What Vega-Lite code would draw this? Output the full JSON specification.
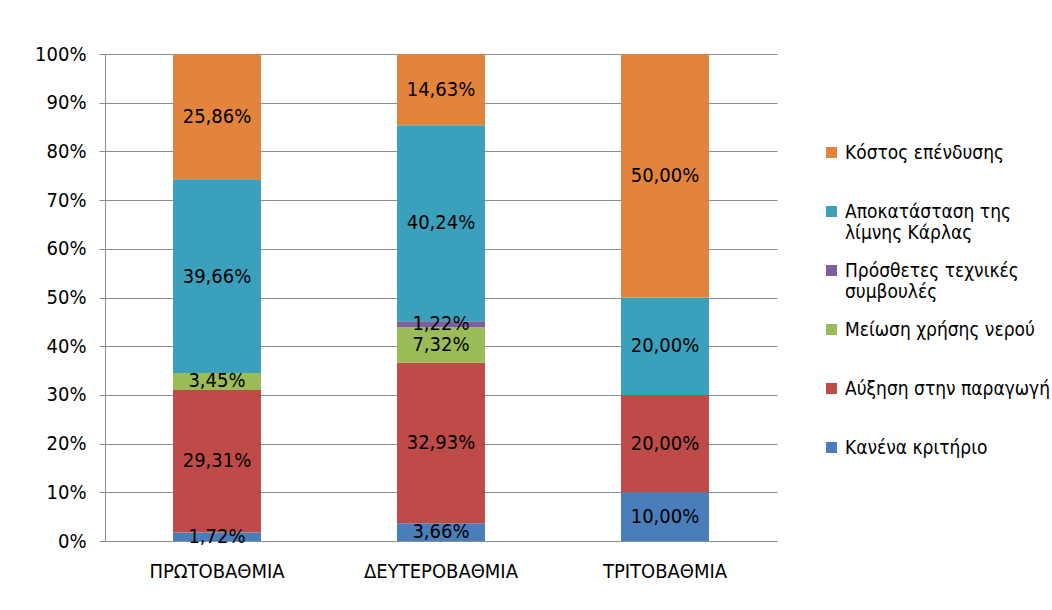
{
  "$schema": "https://vega.github.io/schema/vega-lite/v6.json",
  "width": 672,
  "height": 487,
  "autosize": {"type": "none"},
  "padding": {"left": 105, "top": 54, "right": 275, "bottom": 69},
  "background": "white",
  "config": {
    "locale": {"number": {"decimal": ",", "thousands": ".", "grouping": [3], "currency": ["", " €"]}},
    "view": {"stroke": null},
    "font": "DejaVu Sans Condensed",
    "axis": {"labelFont": "DejaVu Sans Condensed", "labelColor": "#000000", "gridColor": "#8c8c8c", "domainColor": "#8c8c8c", "tickColor": "#8c8c8c"}
  },
  "data": {
    "values": [
      {"level": "ΠΡΩΤΟΒΑΘΜΙΑ", "criterion": "Κανένα κριτήριο", "value": 0.0172, "rank": 1},
      {"level": "ΠΡΩΤΟΒΑΘΜΙΑ", "criterion": "Αύξηση στην παραγωγή", "value": 0.2931, "rank": 2},
      {"level": "ΠΡΩΤΟΒΑΘΜΙΑ", "criterion": "Μείωση χρήσης νερού", "value": 0.0345, "rank": 3},
      {"level": "ΠΡΩΤΟΒΑΘΜΙΑ", "criterion": "Αποκατάσταση της λίμνης Κάρλας", "value": 0.3966, "rank": 5},
      {"level": "ΠΡΩΤΟΒΑΘΜΙΑ", "criterion": "Κόστος επένδυσης", "value": 0.2586, "rank": 6},
      {"level": "ΔΕΥΤΕΡΟΒΑΘΜΙΑ", "criterion": "Κανένα κριτήριο", "value": 0.0366, "rank": 1},
      {"level": "ΔΕΥΤΕΡΟΒΑΘΜΙΑ", "criterion": "Αύξηση στην παραγωγή", "value": 0.3293, "rank": 2},
      {"level": "ΔΕΥΤΕΡΟΒΑΘΜΙΑ", "criterion": "Μείωση χρήσης νερού", "value": 0.0732, "rank": 3},
      {"level": "ΔΕΥΤΕΡΟΒΑΘΜΙΑ", "criterion": "Πρόσθετες τεχνικές συμβουλές", "value": 0.0122, "rank": 4},
      {"level": "ΔΕΥΤΕΡΟΒΑΘΜΙΑ", "criterion": "Αποκατάσταση της λίμνης Κάρλας", "value": 0.4024, "rank": 5},
      {"level": "ΔΕΥΤΕΡΟΒΑΘΜΙΑ", "criterion": "Κόστος επένδυσης", "value": 0.1463, "rank": 6},
      {"level": "ΤΡΙΤΟΒΑΘΜΙΑ", "criterion": "Κανένα κριτήριο", "value": 0.10, "rank": 1},
      {"level": "ΤΡΙΤΟΒΑΘΜΙΑ", "criterion": "Αύξηση στην παραγωγή", "value": 0.20, "rank": 2},
      {"level": "ΤΡΙΤΟΒΑΘΜΙΑ", "criterion": "Αποκατάσταση της λίμνης Κάρλας", "value": 0.20, "rank": 5},
      {"level": "ΤΡΙΤΟΒΑΘΜΙΑ", "criterion": "Κόστος επένδυσης", "value": 0.50, "rank": 6}
    ]
  },
  "encoding": {
    "x": {
      "field": "level", "type": "nominal", "sort": null,
      "scale": {"paddingInner": 0.607, "paddingOuter": 0.3035},
      "axis": {"title": null, "labelAngle": 0, "labelFontSize": 20, "ticks": false, "labelPadding": 20, "grid": false}
    }
  },
  "layer": [
    {
      "mark": {"type": "bar"},
      "encoding": {
        "y": {
          "field": "value", "type": "quantitative", "stack": "zero",
          "scale": {"domain": [0, 1]},
          "axis": {"title": null, "format": ".0%", "values": [0, 0.1, 0.2, 0.3, 0.4, 0.5, 0.6, 0.7, 0.8, 0.9, 1], "labelFontSize": 20, "tickSize": 6, "labelPadding": 13, "grid": true}
        },
        "order": {"field": "rank", "type": "quantitative"},
        "color": {
          "field": "criterion", "type": "nominal",
          "scale": {
            "domain": ["Κόστος επένδυσης", "Αποκατάσταση της λίμνης Κάρλας", "Πρόσθετες τεχνικές συμβουλές", "Μείωση χρήσης νερού", "Αύξηση στην παραγωγή", "Κανένα κριτήριο"],
            "range": ["#E3843C", "#3AA0BC", "#7D5FA0", "#9BBB59", "#BE4B48", "#4A7EBB"]
          },
          "legend": {
            "title": null, "orient": "none", "legendX": 717, "legendY": 89,
            "symbolType": "square", "symbolSize": 121, "symbolStrokeWidth": 0,
            "labelFont": "DejaVu Sans Condensed", "labelFontSize": 19, "labelColor": "#000000", "labelLimit": 400, "labelOffset": 4,
            "labelExpr": "datum.label == 'Αποκατάσταση της λίμνης Κάρλας' ? ['Αποκατάσταση της', 'λίμνης Κάρλας'] : datum.label == 'Πρόσθετες τεχνικές συμβουλές' ? ['Πρόσθετες τεχνικές', 'συμβουλές'] : [datum.label, '']",
            "labelLineHeight": 23,
            "rowPadding": 18
          }
        }
      }
    },
    {
      "mark": {"type": "text", "font": "DejaVu Sans Condensed", "fontSize": 20, "color": "#000000"},
      "encoding": {
        "y": {"field": "value", "type": "quantitative", "stack": "zero", "bandPosition": 0.5},
        "order": {"field": "rank", "type": "quantitative"},
        "detail": {"field": "criterion"},
        "text": {"field": "value", "type": "quantitative", "format": ".2%"}
      }
    }
  ]
}
